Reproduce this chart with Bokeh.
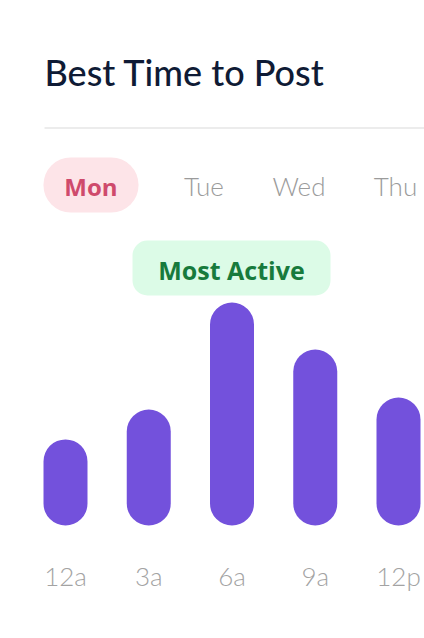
from bokeh.plotting import figure
from bokeh.models import Range1d, Label, BoxAnnotation
from bokeh.core.properties import value
from bokeh.embed import file_html
from bokeh.resources import INLINE

# ---- data ----
title_text = "Best Time to Post"
days = ["Mon", "Tue", "Wed", "Thu"]
selected_day = "Mon"
hours = ["12a", "3a", "6a", "9a", "12p"]
activity = [38.6, 52.0, 100.0, 78.9, 57.4]
badge_text = "Most Active"

W, H = 424, 638
PX_X = 83.25   # px per category step
PX_Y = 2.23    # px per activity unit
x0_px = 65.0   # frame px of first bar center
base_px = 113.0  # frame px (from bottom) of bar base

xs = list(range(len(hours)))
x_start = -x0_px / PX_X
y_start = -base_px / PX_Y

p = figure(width=W, height=H, output_backend="svg", toolbar_location=None,
           x_range=Range1d(x_start, x_start + W / PX_X),
           y_range=Range1d(y_start, y_start + H / PX_Y),
           x_axis_location=None, y_axis_location=None,
           min_border=0, outline_line_color=None,
           background_fill_color="white", border_fill_color="white")
p.grid.visible = False


def box(left, right, top, bottom, color, radius=0):
    return BoxAnnotation(left=left, right=right, top=top, bottom=bottom,
                         left_units="screen", right_units="screen",
                         top_units="screen", bottom_units="screen",
                         fill_color=color, fill_alpha=1, line_color=None,
                         border_radius=radius)


# title
p.add_layout(Label(x=44, y=567, x_units="screen", y_units="screen", text=title_text,
                   text_font="'Lato Medium', Lato", text_font_size="36px",
                   text_color="#0f1b35",
                   text_baseline="alphabetic", text_align="left"))
# divider
p.add_layout(box(44, 424, 511.2, 509.8, "#e6e6e6"))

# day tabs
day_centers = [90.5, 203.5, 298.5, 395]
for d, cx in zip(days, day_centers):
    if d == selected_day:
        p.add_layout(box(cx - 47.5, cx + 47.5, 481, 426, "#fde4e8", 27))
        p.add_layout(Label(x=cx, y=451.8, x_units="screen", y_units="screen", text=d,
                           text_font="'Open Sans'", text_font_style="bold",
                           text_font_size="24px", text_color="#cf4a6c",
                           text_align="center", text_baseline="alphabetic"))
    else:
        p.add_layout(Label(x=cx, y=452.1, x_units="screen", y_units="screen", text=d,
                           text_font="'Lato Light', Lato", text_font_size="26px",
                           text_color="#9b9b9b",
                           text_align="center", text_baseline="alphabetic"))

# badge
p.add_layout(box(132, 330, 398, 343, "#dcfbe7", 15))
p.add_layout(Label(x=231, y=369, x_units="screen", y_units="screen", text=badge_text,
                   text_font="'Open Sans'", text_font_style="bold",
                   text_font_size="25px", text_color="#177a3c",
                   text_align="center", text_baseline="alphabetic"))

# bars
p.vbar(x=xs, top=activity, bottom=0, width=44 / PX_X, fill_color="#7351dc",
       line_color=None, border_radius=22)

# hour labels
p.text(x=xs, y=[0] * len(xs), text=hours, y_offset=50,
       text_font=value("'Lato Light', Lato"), text_font_size="26px", text_color="#a3a3a3",
       text_align="center", text_baseline="alphabetic")

open("out.html", "w").write(file_html(p, INLINE))
